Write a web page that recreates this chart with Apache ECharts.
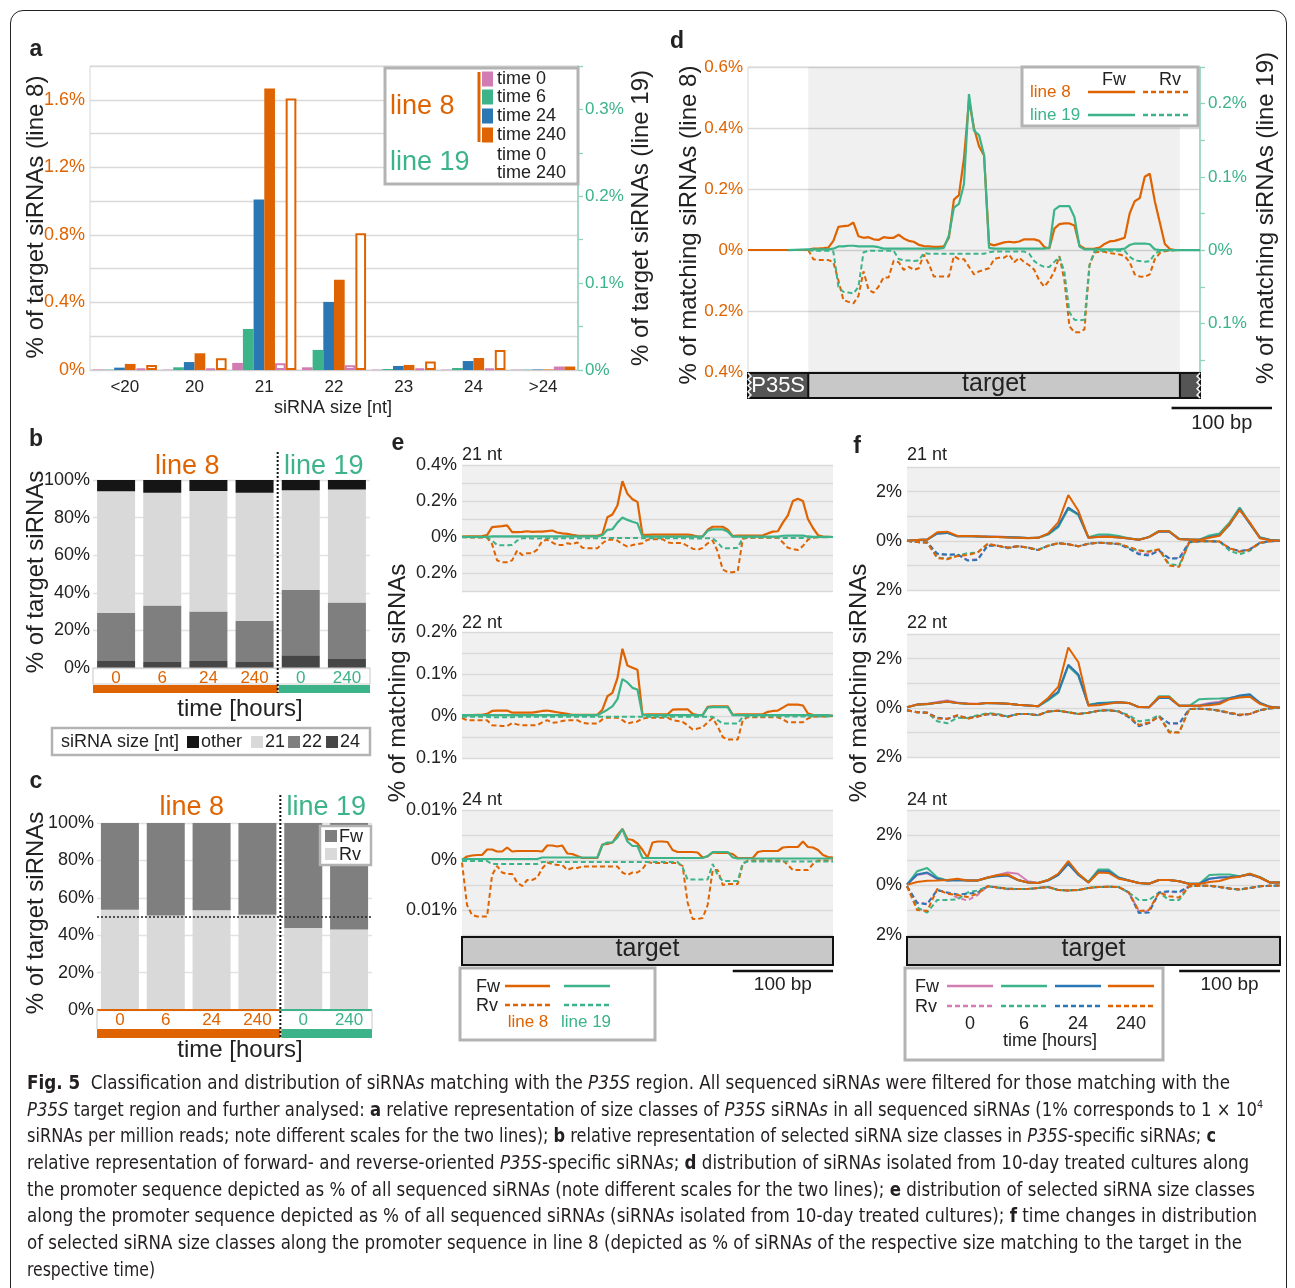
<!DOCTYPE html>
<html><head><meta charset="utf-8">
<script src="https://cdn.jsdelivr.net/npm/echarts/dist/echarts.min.js"></script>
<style>
html,body{margin:0;padding:0;background:#fff;}
#wrap{position:relative;width:1295px;height:1288px;overflow:hidden;background:#fff;}
#frame{position:absolute;left:10px;top:10px;width:1277px;height:1340px;border:1.3px solid #222;border-radius:13px;box-sizing:border-box;}
#c{position:absolute;left:0;top:0;width:1295px;height:1288px;}
#cap{position:absolute;left:27px;top:1069px;font-family:"Liberation Sans Narrow","DejaVu Sans Condensed","Liberation Sans",sans-serif;font-size:19px;line-height:26.7px;color:#231f20;}
#cap .ln{white-space:nowrap;height:26.7px;}
#cap .ln span.t{display:inline-block;transform-origin:0 50%;}
#cap sup{font-size:11px;vertical-align:8px;line-height:0;}
</style></head>
<body>
<div id="wrap">
<div id="c"></div>
<div id="frame"></div>
<div id="cap">
<div class="ln"><span class="t"><b>Fig. 5</b>&nbsp; Classification and distribution of siRNA<i>s</i> matching with the <i>P35S</i> region. All sequenced siRNA<i>s</i> were filtered for those matching with the</span></div>
<div class="ln"><span class="t"><i>P35S</i> target region and further analysed: <b>a</b> relative representation of size classes of <i>P35S</i> siRNA<i>s</i> in all sequenced siRNA<i>s</i> (1% corresponds to 1 × 10<sup>4</sup></span></div>
<div class="ln"><span class="t">siRNAs per million reads; note different scales for the two lines); <b>b</b> relative representation of selected siRNA size classes in <i>P35S</i>-specific siRNA<i>s</i>; <b>c</b></span></div>
<div class="ln"><span class="t">relative representation of forward- and reverse-oriented <i>P35S</i>-specific siRNA<i>s</i>; <b>d</b> distribution of siRNA<i>s</i> isolated from 10-day treated cultures along</span></div>
<div class="ln"><span class="t">the promoter sequence depicted as % of all sequenced siRNA<i>s</i> (note different scales for the two lines); <b>e</b> distribution of selected siRNA size classes</span></div>
<div class="ln"><span class="t">along the promoter sequence depicted as % of all sequenced siRNA<i>s</i> (siRNA<i>s</i> isolated from 10-day treated cultures); <b>f</b> time changes in distribution</span></div>
<div class="ln"><span class="t">of selected siRNA size classes along the promoter sequence in line 8 (depicted as % of siRNA<i>s</i> of the respective size matching to the target in the</span></div>
<div class="ln"><span class="t">respective time)</span></div>
</div>
</div>
<script>
// ---------------- DATA ----------------
const sizeClasses = ['<20','20','21','22','23','24','>24'];
const aLine8_t0   = [0.003,0.002,0.042,0.016,0.002,0.002,0.002];
const aLine8_t6   = [0.002,0.016,0.243,0.119,0.006,0.012,0.002];
const aLine8_t24  = [0.014,0.047,1.009,0.403,0.024,0.053,0.003];
const aLine8_t240 = [0.036,0.099,1.667,0.534,0.030,0.071,0.003];
const aLine19_t0  = [0.002,0.002,0.0077,0.0054,0.002,0.002,0.004];
const aLine19_t240= [0.0058,0.0135,0.3127,0.1575,0.0097,0.023,0.004];

const timeLabels = ['0','6','24','240','0','240'];
const bOther = [6.0,6.8,5.9,6.8,5.5,5.0];
const b21 = [64.8,60.0,64.1,68.1,53.0,60.2];
const b22 = [25.5,30.0,26.3,21.9,34.7,30.0];
const b24 = [3.7,3.2,3.7,3.2,6.8,4.8];
const cRv = [53.6,50.5,53.4,50.9,43.8,43.0];
const cFw = [46.4,49.5,46.6,49.1,56.2,57.0];

// positions along target [bp]
const pos5 = [0,5,10,15,20,25,30,35,40,45,50,55,60,65,70,75,80,85,90,95,100,105,110,115,120,125,130,135,140,145,150,155,160,165,170,175,180,185,190,195,200,205,210,215,220,225,230,235,240,245,250,255,260,265,270,275,280,285,290,295,300,305,310,315,320,325,330,335,340,345,350,355,360,365,370];
const pos10 = [0,10,20,30,40,50,60,70,80,90,100,110,120,130,140,150,160,170,180,190,200,210,220,230,240,250,260,270,280,290,300,310,320,330,340,350,360,370];

// panel d (10-day): line 8 on left axis, line 19 on right axis
const dL8Fw = [0,0.005,0.005,0.006,0.008,0.03,0.076,0.078,0.08,0.09, 0.045,0.04,0.042,0.035,0.033,0.042,0.04,0.04,0.05,0.038, 0.03,0.027,0.017,0.013,0.012,0.01,0.01,0.012,0.04,0.165, 0.18,0.3,0.49,0.4,0.34,0.31,0.02,0.015,0.02,0.025, 0.027,0.025,0.028,0.035,0.035,0.035,0.03,0.01,0.005,0.07, 0.085,0.087,0.087,0.08,0.015,0.005,0.004,0.005,0.008,0.02, 0.028,0.03,0.035,0.04,0.12,0.16,0.17,0.24,0.25,0.16, 0.09,0.02,0.003,0,0];
const dL8Rv = [0,-0.03,-0.033,-0.033,-0.033,-0.04,-0.1,-0.164,-0.17,-0.175, -0.15,-0.07,-0.13,-0.14,-0.12,-0.09,-0.09,-0.035,-0.04,-0.065, -0.055,-0.065,-0.06,-0.015,-0.045,-0.087,-0.087,-0.087,-0.087,-0.02, -0.03,-0.03,-0.055,-0.08,-0.07,-0.065,-0.06,-0.03,-0.025,-0.025, -0.015,-0.04,-0.025,-0.04,-0.05,-0.065,-0.1,-0.12,-0.1,-0.07, -0.02,-0.1,-0.25,-0.27,-0.27,-0.26,-0.05,-0.008,-0.006,-0.006, -0.01,-0.012,-0.015,-0.02,-0.04,-0.08,-0.087,-0.088,-0.08,-0.03, -0.01,-0.004,-0.002,0,0];
const dL19Fw = [0.001,0.001,0.001,0.001,0.001,0.002,0.005,0.005,0.006,0.006, 0.005,0.005,0.005,0.005,0.004,0.002,0.002,0.002,0.002,0.002, 0.002,0.002,0.002,0.002,0.002,0.002,0.002,0.003,0.02,0.058, 0.063,0.09,0.213,0.163,0.157,0.13,0.003,0.002,0.002,0.002, 0.002,0.002,0.002,0.002,0.002,0.002,0.002,0.002,0.003,0.055, 0.06,0.06,0.06,0.045,0.005,0.001,0.001,0.001,0.001,0.001, 0.001,0.001,0.001,0.002,0.007,0.009,0.009,0.009,0.008,0.001, 0,0,0,0,0];
const dL19Rv = [0,-0.001,-0.001,-0.001,-0.001,-0.002,-0.05,-0.057,-0.058,-0.059, -0.05,-0.003,-0.001,-0.001,-0.001,-0.001,-0.001,-0.001,-0.012,-0.014, -0.014,-0.015,-0.014,-0.004,-0.005,-0.005,-0.005,-0.005,-0.005,-0.005, -0.005,-0.005,-0.005,-0.005,-0.005,-0.005,-0.003,-0.002,-0.002,-0.002, -0.002,-0.002,-0.002,-0.002,-0.005,-0.015,-0.02,-0.023,-0.023,-0.016, -0.009,-0.03,-0.085,-0.095,-0.096,-0.095,-0.02,-0.001,-0.001,-0.001, -0.001,-0.001,-0.001,-0.001,-0.009,-0.014,-0.015,-0.016,-0.015,-0.005, -0.001,0,0,0,0];

// panel e
const e21L8Fw = [0.002,0.003,0.003,0.004,0.005,0.01,0.055,0.058,0.06,0.065, 0.027,0.027,0.028,0.032,0.028,0.03,0.03,0.033,0.036,0.025, 0.02,0.017,0.012,0.008,0.007,0.007,0.007,0.007,0.015,0.11, 0.125,0.175,0.31,0.24,0.21,0.195,0.013,0.012,0.013,0.013, 0.013,0.013,0.013,0.013,0.013,0.013,0.01,0.002,0.003,0.04, 0.057,0.057,0.057,0.04,0.005,0.008,0.008,0.008,0.008,0.008, 0.009,0.02,0.03,0.032,0.08,0.12,0.2,0.213,0.2,0.1, 0.05,0.01,0.002,0.001,0];
const e21L19Fw = [0.001,0.001,0.001,0.001,0.001,0.001,0.004,0.004,0.004,0.004, 0.004,0.004,0.004,0.004,0.004,0.004,0.004,0.004,0.004,0.004, 0.004,0.004,0.004,0.004,0.003,0.003,0.003,0.003,0.01,0.04, 0.043,0.08,0.108,0.095,0.085,0.076,0.002,0.002,0.002,0.002, 0.002,0.002,0.002,0.002,0.002,0.002,0.002,0.002,0.002,0.035, 0.042,0.042,0.042,0.03,0.002,0.002,0.002,0.002,0.002,0.002, 0.002,0.002,0.002,0.002,0.007,0.008,0.008,0.008,0.008,0.003, 0.001,0.001,0.001,0.001,0];
const e21L8Rv = [0,-0.002,-0.003,-0.003,-0.003,-0.004,-0.04,-0.13,-0.14,-0.14, -0.13,-0.075,-0.1,-0.09,-0.09,-0.07,-0.022,-0.016,-0.03,-0.045, -0.045,-0.035,-0.04,-0.03,-0.06,-0.063,-0.063,-0.063,-0.035,-0.015, -0.015,-0.02,-0.04,-0.053,-0.045,-0.04,-0.035,-0.015,-0.012,-0.012, -0.012,-0.03,-0.034,-0.034,-0.034,-0.05,-0.065,-0.072,-0.06,-0.035, -0.02,-0.08,-0.18,-0.196,-0.196,-0.19,-0.01,-0.005,-0.004,-0.004, -0.004,-0.004,-0.004,-0.004,-0.03,-0.06,-0.068,-0.072,-0.05,-0.015, -0.004,-0.002,0,0,0];
const e21L19Rv = [-0.002,-0.002,-0.002,-0.002,-0.002,-0.002,-0.02,-0.045,-0.046,-0.046, -0.045,-0.02,-0.007,-0.007,-0.008,-0.008,-0.007,-0.007,-0.008,-0.008, -0.007,-0.007,-0.007,-0.007,-0.007,-0.007,-0.007,-0.007,-0.006,-0.006, -0.006,-0.006,-0.006,-0.006,-0.006,-0.006,-0.007,-0.007,-0.007,-0.007, -0.007,-0.007,-0.007,-0.007,-0.007,-0.007,-0.008,-0.008,-0.008,-0.007, -0.007,-0.03,-0.062,-0.063,-0.063,-0.06,-0.005,-0.003,-0.003,-0.003, -0.003,-0.003,-0.003,-0.003,-0.006,-0.006,-0.006,-0.006,-0.006,-0.003, -0.001,-0.001,-0.001,-0.001,0];
const e22L8Fw = [0.001,0.002,0.002,0.003,0.003,0.005,0.012,0.013,0.013,0.013, 0.008,0.008,0.008,0.008,0.008,0.01,0.012,0.013,0.011,0.009, 0.007,0.005,0.003,0.003,0.003,0.003,0.003,0.003,0.015,0.047, 0.055,0.09,0.16,0.12,0.115,0.11,0.003,0.004,0.004,0.004, 0.004,0.004,0.015,0.016,0.016,0.016,0.005,0.002,0.002,0.022, 0.023,0.023,0.023,0.023,0.003,0.004,0.004,0.004,0.004,0.004, 0.004,0.01,0.012,0.013,0.02,0.027,0.027,0.027,0.025,0.006, 0.003,0.001,0.001,0.001,0.001];
const e22L19Fw = [0.002,0.002,0.002,0.002,0.002,0.002,0.002,0.002,0.002,0.002, 0.002,0.002,0.002,0.002,0.002,0.002,0.002,0.002,0.002,0.002, 0.002,0.002,0.002,0.002,0.002,0.002,0.002,0.002,0.008,0.015, 0.023,0.04,0.088,0.08,0.067,0.063,0.002,0.002,0.002,0.002, 0.002,0.002,0.002,0.002,0.002,0.002,0.002,0.002,0.002,0.02, 0.021,0.021,0.021,0.021,0.002,0.002,0.002,0.002,0.002,0.002, 0.002,0.002,0.002,0.002,0.002,0.002,0.002,0.002,0.002,0.002, 0.002,0.002,0.002,0.002,0];
const e22L8Rv = [-0.005,-0.01,-0.01,-0.01,-0.01,-0.01,-0.022,-0.023,-0.024,-0.024, -0.017,-0.02,-0.022,-0.022,-0.022,-0.022,-0.015,-0.01,-0.016,-0.015, -0.012,-0.01,-0.01,-0.01,-0.016,-0.018,-0.018,-0.018,-0.008,-0.004, -0.004,-0.004,-0.01,-0.018,-0.015,-0.013,-0.006,-0.004,-0.004,-0.004, -0.004,-0.004,-0.01,-0.012,-0.014,-0.022,-0.032,-0.03,-0.027,-0.015, -0.005,-0.025,-0.05,-0.056,-0.056,-0.056,-0.01,-0.003,-0.003,-0.003, -0.003,-0.003,-0.003,-0.003,-0.008,-0.015,-0.015,-0.015,-0.015,-0.006, -0.002,-0.001,-0.001,-0.001,0];
const e22L19Rv = [-0.002,-0.002,-0.002,-0.002,-0.002,-0.002,-0.003,-0.003,-0.003,-0.003, -0.003,-0.002,-0.002,-0.002,-0.002,-0.002,-0.002,-0.002,-0.002,-0.002, -0.002,-0.002,-0.002,-0.002,-0.002,-0.002,-0.002,-0.002,-0.002,-0.002, -0.002,-0.002,-0.002,-0.002,-0.002,-0.002,-0.002,-0.002,-0.002,-0.002, -0.002,-0.002,-0.002,-0.002,-0.002,-0.002,-0.002,-0.002,-0.002,-0.002, -0.002,-0.01,-0.018,-0.018,-0.018,-0.018,-0.002,-0.001,-0.001,-0.001, -0.001,-0.001,-0.001,-0.001,-0.001,-0.001,-0.001,-0.001,-0.001,-0.001, -0.001,-0.001,-0.001,-0.001,0];
const e24L8Fw = [0,0.0007,0.0009,0.001,0.001,0.0021,0.0021,0.0017,0.0017,0.0025, 0.0017,0.0018,0.0018,0.0018,0.0018,0.0018,0.0017,0.0029,0.0029,0.0027, 0.0029,0.0013,0.0012,0.0008,0.0004,0.0004,0.0004,0.0004,0.0031,0.0032, 0.0035,0.005,0.0062,0.0042,0.004,0.0033,0.002,0.0005,0.0035,0.0037, 0.0037,0.0036,0.002,0.0016,0.0016,0.0016,0.0016,0.0015,0.0005,0.0007, 0.0015,0.0014,0.0014,0.0014,0.0012,0.0004,0.0004,0.0004,0.0004,0.0016, 0.0018,0.0018,0.0018,0.0018,0.0025,0.0026,0.0026,0.0026,0.0037,0.0026, 0.0025,0.002,0.001,0.0006,0.0005];
const e24L19Fw = [0.0002,0.0002,0.0002,0.0002,0.0002,0.0002,0.0002,0.0002,0.0002,0.0002, 0.0002,0.0002,0.0002,0.0002,0.0002,0.0002,0.0005,0.0005,0.0005,0.0005, 0.0005,0.0005,0.0005,0.0005,0.0005,0.0005,0.0005,0.0005,0.003,0.0035, 0.0035,0.0045,0.0062,0.0037,0.0028,0.0028,0.0004,0.0004,0.0004,0.0004, 0.0004,0.0004,0.0004,0.0004,0.0004,0.0004,0.0004,0.0004,0.0004,0.0008, 0.0016,0.0016,0.0016,0.0016,0.0005,0.0003,0.0003,0.0003,0.0003,0.0003, 0.0003,0.0003,0.0003,0.0003,0.0003,0.0003,0.0003,0.0003,0.0003,0.0003, 0.0003,0.0003,0.0003,0.0003,0.0003];
const e24L8Rv = [-0.0005,-0.009,-0.011,-0.0113,-0.0113,-0.0113,-0.003,-0.0012,-0.0025,-0.0028, -0.0028,-0.0045,-0.0052,-0.004,-0.004,-0.0035,-0.0017,-0.0005,-0.0008,-0.001, -0.001,-0.002,-0.0016,-0.0016,-0.0013,-0.0013,-0.0013,-0.0013,-0.0013,-0.0013, -0.0013,-0.0013,-0.0025,-0.003,-0.0025,-0.0025,-0.0018,-0.0004,-0.0006,-0.0006, -0.0006,-0.0006,-0.0006,-0.0006,-0.0012,-0.0085,-0.0118,-0.0118,-0.0116,-0.009, -0.002,-0.002,-0.005,-0.0048,-0.0048,-0.0048,-0.0008,-0.0001,-0.0001,-0.0001, -0.0001,-0.0001,-0.0001,-0.0001,-0.0001,-0.001,-0.002,-0.002,-0.002,-0.002, -0.0008,-0.0001,-0.0001,-0.0001,-0.0001];
const e24L19Rv = [-0.0002,-0.0002,-0.0002,-0.0002,-0.0002,-0.0002,-0.0008,-0.0008,-0.0008,-0.0008, -0.0008,-0.0008,-0.0008,-0.0008,-0.0008,-0.0008,-0.0004,-0.0004,-0.0004,-0.0004, -0.0004,-0.0004,-0.0004,-0.0004,-0.0004,-0.0004,-0.0004,-0.0004,-0.0004,-0.0004, -0.0004,-0.0004,-0.0004,-0.0004,-0.0004,-0.0004,-0.0004,-0.0004,-0.0004,-0.0004, -0.0004,-0.0004,-0.0004,-0.0004,-0.0015,-0.0039,-0.0039,-0.0039,-0.0039,-0.0039, -0.0008,-0.003,-0.0042,-0.0042,-0.0042,-0.0042,-0.0006,-0.0003,-0.0003,-0.0003, -0.0003,-0.0003,-0.0003,-0.0003,-0.0003,-0.0003,-0.0003,-0.0003,-0.0003,-0.0003, -0.0003,-0.0003,-0.0003,-0.0003,-0.0003];

// panel f (line 8, time series 0 / 6 / 24 / 240 h)
const f21Fw0   = [0,0.03,0.05,0.3,0.33,0.19,0.2,0.18,0.17,0.17, 0.15,0.13,0.11,0.12,0.27,0.58,1.32,1.06,0.13,0.18, 0.2,0.15,0.09,0.04,0.15,0.38,0.38,0.07,0.05,0.04, 0.18,0.25,0.7,1.35,0.72,0.14,0.03,0];
const f21Fw6   = [0,0.03,0.05,0.3,0.32,0.18,0.19,0.17,0.16,0.15, 0.14,0.13,0.11,0.12,0.25,0.55,1.3,1.05,0.15,0.26, 0.26,0.2,0.1,0.04,0.16,0.4,0.4,0.08,0.05,0.05, 0.22,0.3,0.75,1.35,0.72,0.15,0.04,0];
const f21Fw24  = [0,0.03,0.05,0.3,0.32,0.18,0.19,0.17,0.16,0.15, 0.14,0.13,0.11,0.12,0.28,0.6,1.35,1.08,0.12,0.16, 0.16,0.13,0.09,0.04,0.15,0.37,0.37,0.07,0.05,0.04, 0.15,0.22,0.65,1.28,0.7,0.12,0.03,0];
const f21Fw240 = [0,0.03,0.05,0.35,0.37,0.2,0.2,0.18,0.16,0.15, 0.13,0.12,0.1,0.12,0.3,0.75,1.86,1.22,0.12,0.15, 0.16,0.13,0.09,0.04,0.15,0.39,0.39,0.06,0.05,0.03, 0.12,0.2,0.7,1.25,0.75,0.1,0.02,0];
const f21Rv0   = [0,-0.05,-0.07,-0.55,-0.58,-0.55,-0.78,-0.75,-0.18,-0.2, -0.28,-0.22,-0.27,-0.37,-0.2,-0.1,-0.14,-0.22,-0.12,-0.08, -0.1,-0.13,-0.3,-0.5,-0.55,-0.4,-0.7,-0.7,-0.06,-0.02, -0.02,-0.03,-0.32,-0.42,-0.35,-0.08,-0.02,0];
const f21Rv6   = [0,-0.05,-0.07,-0.68,-0.72,-0.6,-0.5,-0.48,-0.14,-0.2, -0.3,-0.22,-0.28,-0.36,-0.2,-0.1,-0.14,-0.22,-0.12,-0.08, -0.1,-0.12,-0.28,-0.4,-0.42,-0.35,-0.95,-1.0,-0.06,-0.02, -0.02,-0.03,-0.4,-0.55,-0.4,-0.1,-0.02,0];
const f21Rv24  = [0,-0.05,-0.07,-0.52,-0.56,-0.55,-0.8,-0.78,-0.2,-0.2, -0.28,-0.22,-0.28,-0.38,-0.2,-0.1,-0.14,-0.22,-0.12,-0.08, -0.1,-0.14,-0.32,-0.55,-0.6,-0.4,-0.72,-0.72,-0.06,-0.02, -0.02,-0.03,-0.3,-0.42,-0.35,-0.08,-0.02,0];
const f21Rv240 = [0,-0.05,-0.07,-0.7,-0.75,-0.62,-0.58,-0.48,-0.12,-0.2, -0.28,-0.22,-0.28,-0.38,-0.2,-0.1,-0.14,-0.22,-0.12,-0.08, -0.1,-0.12,-0.25,-0.38,-0.45,-0.35,-1.0,-1.06,-0.05,-0.02, -0.02,-0.03,-0.3,-0.45,-0.35,-0.08,-0.02,0];
const f22Fw0   = [0.02,0.14,0.16,0.24,0.3,0.22,0.17,0.16,0.2,0.18, 0.16,0.12,0.09,0.06,0.33,0.62,1.72,1.32,0.1,0.18, 0.2,0.22,0.18,0.03,0.02,0.42,0.42,0.08,0.08,0.1, 0.2,0.25,0.4,0.48,0.5,0.2,0.04,0];
const f22Fw6   = [0.02,0.12,0.14,0.2,0.25,0.19,0.16,0.15,0.19,0.18, 0.16,0.12,0.09,0.06,0.3,0.6,1.7,1.3,0.12,0.2, 0.22,0.24,0.2,0.03,0.02,0.47,0.47,0.08,0.08,0.35, 0.37,0.38,0.4,0.45,0.5,0.2,0.04,0];
const f22Fw24  = [0.02,0.13,0.15,0.2,0.26,0.19,0.16,0.15,0.2,0.18, 0.16,0.12,0.09,0.06,0.35,0.65,1.75,1.35,0.1,0.18, 0.2,0.23,0.2,0.03,0.02,0.4,0.4,0.08,0.08,0.08, 0.15,0.2,0.38,0.5,0.55,0.2,0.04,0];
const f22Fw240 = [0.02,0.13,0.15,0.2,0.26,0.19,0.16,0.15,0.2,0.18, 0.16,0.12,0.09,0.06,0.4,0.85,2.45,1.85,0.08,0.1, 0.16,0.23,0.2,0.03,0.02,0.44,0.44,0.08,0.08,0.08, 0.1,0.15,0.35,0.42,0.45,0.16,0.03,0];
const f22Rv0   = [-0.1,-0.18,-0.2,-0.42,-0.45,-0.32,-0.42,-0.35,-0.26,-0.28, -0.36,-0.25,-0.25,-0.3,-0.15,-0.12,-0.18,-0.25,-0.2,-0.12, -0.1,-0.15,-0.38,-0.72,-0.62,-0.35,-0.65,-0.65,-0.05,-0.04, -0.06,-0.12,-0.22,-0.3,-0.25,-0.1,-0.02,0];
const f22Rv6   = [-0.1,-0.18,-0.2,-0.55,-0.63,-0.4,-0.42,-0.3,-0.22,-0.25, -0.35,-0.25,-0.25,-0.3,-0.15,-0.12,-0.18,-0.25,-0.2,-0.12, -0.1,-0.15,-0.3,-0.55,-0.5,-0.3,-0.95,-1.0,-0.05,-0.04, -0.06,-0.12,-0.2,-0.28,-0.25,-0.1,-0.02,0];
const f22Rv24  = [-0.1,-0.18,-0.2,-0.4,-0.45,-0.32,-0.42,-0.35,-0.26,-0.28, -0.35,-0.25,-0.25,-0.3,-0.15,-0.12,-0.18,-0.25,-0.2,-0.12, -0.1,-0.15,-0.38,-0.75,-0.62,-0.35,-0.63,-0.63,-0.05,-0.04, -0.06,-0.12,-0.22,-0.3,-0.25,-0.1,-0.02,0];
const f22Rv240 = [-0.1,-0.18,-0.2,-0.43,-0.45,-0.3,-0.45,-0.35,-0.25,-0.28, -0.38,-0.25,-0.25,-0.3,-0.15,-0.12,-0.18,-0.25,-0.2,-0.12, -0.1,-0.15,-0.35,-0.7,-0.6,-0.35,-1.0,-1.0,-0.05,-0.04, -0.06,-0.12,-0.2,-0.28,-0.25,-0.1,-0.02,0];
const f24Fw0   = [0.02,0.4,0.47,0.25,0.18,0.2,0.18,0.18,0.3,0.4, 0.5,0.45,0.15,0.08,0.2,0.42,0.85,0.42,0.1,0.55, 0.58,0.3,0.18,0.08,0.05,0.2,0.2,0.15,0.05,0.05, 0.25,0.3,0.32,0.35,0.42,0.3,0.1,0.1];
const f24Fw6   = [0.02,0.55,0.68,0.3,0.18,0.2,0.18,0.18,0.28,0.38, 0.4,0.2,0.1,0.08,0.2,0.42,0.9,0.45,0.12,0.62, 0.62,0.3,0.18,0.08,0.05,0.2,0.2,0.15,0.05,0.05, 0.4,0.42,0.42,0.35,0.45,0.32,0.1,0.1];
const f24Fw24  = [0.02,0.42,0.5,0.25,0.18,0.2,0.18,0.18,0.3,0.35, 0.38,0.2,0.1,0.08,0.18,0.4,0.85,0.4,0.1,0.55, 0.55,0.28,0.18,0.08,0.05,0.2,0.2,0.15,0.05,0.05, 0.25,0.3,0.32,0.35,0.42,0.3,0.1,0.1];
const f24Fw240 = [0.01,0.12,0.17,0.18,0.2,0.25,0.18,0.18,0.3,0.4, 0.42,0.2,0.1,0.08,0.2,0.45,0.96,0.45,0.1,0.5, 0.48,0.25,0.18,0.08,0.05,0.2,0.2,0.15,0.04,0.04, 0.12,0.16,0.28,0.33,0.45,0.3,0.1,0.1];
const f24Rv0   = [-0.05,-0.7,-0.75,-0.2,-0.32,-0.5,-0.62,-0.4,-0.05,-0.12, -0.17,-0.16,-0.16,-0.12,-0.08,-0.2,-0.22,-0.2,-0.12,-0.08, -0.07,-0.08,-0.3,-1.05,-1.05,-0.3,-0.28,-0.3,-0.05,-0.03, -0.03,-0.08,-0.14,-0.18,-0.12,-0.05,-0.03,-0.02];
const f24Rv6   = [-0.05,-0.9,-1.1,-0.6,-0.6,-0.58,-0.3,-0.22,-0.05,-0.1, -0.15,-0.16,-0.16,-0.12,-0.08,-0.2,-0.22,-0.2,-0.12,-0.08, -0.07,-0.08,-0.3,-0.6,-0.6,-0.3,-0.6,-0.6,-0.05,-0.03, -0.03,-0.08,-0.14,-0.18,-0.12,-0.05,-0.03,-0.02];
const f24Rv24  = [-0.05,-0.72,-0.77,-0.2,-0.3,-0.38,-0.35,-0.3,-0.05,-0.1, -0.15,-0.16,-0.16,-0.12,-0.08,-0.2,-0.22,-0.2,-0.12,-0.08, -0.07,-0.08,-0.3,-1.12,-1.1,-0.3,-0.25,-0.27,-0.05,-0.03, -0.03,-0.08,-0.14,-0.18,-0.12,-0.05,-0.03,-0.02];
const f24Rv240 = [-0.05,-1.0,-1.04,-0.16,-0.35,-0.4,-0.48,-0.35,-0.05,-0.1, -0.15,-0.16,-0.16,-0.12,-0.08,-0.2,-0.22,-0.2,-0.12,-0.08, -0.07,-0.08,-0.3,-1.04,-1.0,-0.3,-0.45,-0.5,-0.05,-0.03, -0.03,-0.08,-0.14,-0.18,-0.12,-0.05,-0.03,-0.02];

// ---------------- STYLE ----------------
const OR='#DF6300', GR='#3CB389', BL='#2B77B4', PK='#D27CB4';
const GRL='#8fd3b9';
const FONT='"Liberation Sans", Arial, sans-serif';
const TXT='#222';

function pctFmt(step){
  return function(v){
    const k=v/step;
    if (Math.abs(k-Math.round(k))>1e-6) return '';
    return parseFloat(Math.abs(v).toFixed(6))+'%';
  };
}
function yAx(gi,min,max,interval,step,color,fs){
  return {type:'value',gridIndex:gi,min:min,max:max,interval:interval,
    axisLine:{show:false,onZero:false},axisTick:{show:false},
    axisLabel:{color:color,fontSize:fs||18,fontFamily:FONT,margin:5,formatter:pctFmt(step),showMinLabel:true,showMaxLabel:true},
    splitLine:{show:true,lineStyle:{color:'#d9d9d9',width:1.3}}};
}
function zip(p,v){ return p.map(function(x,i){return [x,v[i]];}); }
function ln(xi,yi,data,color,dashed,w,z){
  return {type:'line',xAxisIndex:xi,yAxisIndex:yi,data:data,symbol:'none',showSymbol:false,silent:true,
    animation:false,z:z||3,lineStyle:{color:color,width:w||2,type:dashed?[5,3]:'solid'},itemStyle:{color:color}};
}

const chart = echarts.init(document.getElementById('c'), null, {renderer:'canvas', width:1295, height:1288});

const eBg = {show:true,backgroundColor:'#f0f0f0',borderWidth:0};
const grids = [
  {left:90,top:66,width:488,height:304,show:true,borderColor:'#d6d6d6',borderWidth:1,backgroundColor:'#fff'},
  {left:748,top:67,width:452,height:305,show:true,borderColor:'#d6d6d6',borderWidth:1,backgroundColor:'#fff'},
  {left:748,top:67,width:452,height:293},
  {left:93,top:480,width:277,height:188},
  {left:97,top:823,width:275,height:187},
  Object.assign({left:462,top:465,width:371,height:126},eBg),
  Object.assign({left:462,top:632,width:371,height:126},eBg),
  Object.assign({left:462,top:810,width:371,height:125},eBg),
  Object.assign({left:907,top:467,width:373,height:123},eBg),
  Object.assign({left:907,top:634,width:373,height:123},eBg),
  Object.assign({left:907,top:810,width:373,height:125},eBg)
];

const timeLabelFmt = {
  formatter:function(v,i){ return (i<4?'{o|':'{g|')+v+'}'; },
  rich:{o:{color:OR,fontSize:17,fontFamily:FONT},g:{color:GR,fontSize:17,fontFamily:FONT}},
  margin:2, interval:0
};

const xAxes = [
  {type:'category',gridIndex:0,data:sizeClasses,axisLine:{show:true,onZero:false,lineStyle:{color:'#cfcfcf'}},axisTick:{show:false},
    axisLabel:{color:TXT,fontSize:17,fontFamily:FONT,margin:9}},
  {type:'value',gridIndex:1,min:-60,max:390,show:false},
  {type:'value',gridIndex:2,min:-60,max:390,show:false},
  {type:'category',gridIndex:3,data:timeLabels,axisLine:{show:false,onZero:false},axisTick:{show:false},axisLabel:timeLabelFmt},
  {type:'category',gridIndex:4,data:timeLabels,axisLine:{show:false,onZero:false},axisTick:{show:false},axisLabel:timeLabelFmt},
  {type:'value',gridIndex:5,min:0,max:370,show:false},
  {type:'value',gridIndex:6,min:0,max:370,show:false},
  {type:'value',gridIndex:7,min:0,max:370,show:false},
  {type:'value',gridIndex:8,min:0,max:370,show:false},
  {type:'value',gridIndex:9,min:0,max:370,show:false},
  {type:'value',gridIndex:10,min:0,max:370,show:false}
];

const yAxes = [
  yAx(0,0,1.8,0.2,0.4,OR),
  {type:'value',gridIndex:0,position:'right',min:0,max:0.35,interval:0.05,
    axisLine:{show:true,onZero:false,lineStyle:{color:GRL,width:1.5}},axisTick:{show:true,length:5,lineStyle:{color:GRL,width:1.3}},
    axisLabel:{color:GR,fontSize:17,fontFamily:FONT,margin:7,formatter:pctFmt(0.1)},splitLine:{show:false}},
  yAx(1,-0.4,0.6,0.2,0.2,OR,17),
  {type:'value',gridIndex:1,position:'right',min:-0.4,max:0.6,
    axisLine:{show:true,onZero:false,lineStyle:{color:GRL,width:1.5}},axisTick:{show:false},axisLabel:{show:false},splitLine:{show:false}},
  {type:'value',gridIndex:2,position:'right',min:-0.15,max:0.25,interval:0.05,
    axisLine:{show:false,onZero:false},axisTick:{show:true,length:5,lineStyle:{color:GRL,width:1.3}},
    axisLabel:{color:GR,fontSize:17,fontFamily:FONT,margin:8,formatter:pctFmt(0.1)},splitLine:{show:false}},
  {type:'value',gridIndex:3,min:0,max:100,interval:20,axisLine:{show:false,onZero:false},axisTick:{show:false},
    axisLabel:{formatter:'{value}%',color:TXT,fontSize:18,fontFamily:FONT,margin:3},splitLine:{lineStyle:{color:'#e2e2e2',width:1.3}}},
  {type:'value',gridIndex:4,min:0,max:100,interval:20,axisLine:{show:false,onZero:false},axisTick:{show:false},
    axisLabel:{formatter:'{value}%',color:TXT,fontSize:18,fontFamily:FONT,margin:3},splitLine:{lineStyle:{color:'#e2e2e2',width:1.3}}},
  yAx(5,-0.3,0.4,0.1,0.2,TXT),
  yAx(6,-0.1,0.2,0.05,0.1,TXT),
  yAx(7,-0.015,0.01,0.005,0.01,TXT),
  yAx(8,-2,3,1,2,TXT),
  yAx(9,-2,3,1,2,TXT),
  yAx(10,-2,3,1,2,TXT)
];

const series = [];
// panel a
function barA(yi,data,style){ return {type:'bar',xAxisIndex:0,yAxisIndex:yi,data:data,itemStyle:style,barGap:'0%',barCategoryGap:'8%',animation:false,silent:true}; }
series.push(barA(0,aLine8_t0,{color:PK}));
series.push(barA(0,aLine8_t6,{color:GR}));
series.push(barA(0,aLine8_t24,{color:BL}));
series.push(barA(0,aLine8_t240,{color:OR}));
series.push(barA(1,aLine19_t0,{color:'#fff',borderColor:PK,borderWidth:2}));
series.push(barA(1,aLine19_t240,{color:'#fff',borderColor:OR,borderWidth:2}));

// panel d
const dOrFw = [[-60,0]].concat(zip(pos5,dL8Fw)).concat([[390,0]]);
const dGrFw = [[-20,0]].concat(zip(pos5,dL19Fw)).concat([[390,0]]);
const sdo = ln(1,2,dOrFw,OR,false,2.2,3);
sdo.markArea = {silent:true,itemStyle:{color:'rgba(0,0,0,0.058)'},data:[[{xAxis:0},{xAxis:370}]]};
series.push(sdo);
series.push(ln(1,2,zip(pos5,dL8Rv),OR,true,2,3));
series.push(ln(2,4,zip(pos5,dL19Rv),GR,true,2,4));
series.push(ln(2,4,dGrFw,GR,false,2.2,4));

// panel b
function barB(xi,yi,stack,data,color){ return {type:'bar',xAxisIndex:xi,yAxisIndex:yi,stack:stack,data:data,barWidth:38,itemStyle:{color:color},animation:false,silent:true}; }
series.push(barB(3,5,'b',b24,'#464646'));
series.push(barB(3,5,'b',b22,'#7f7f7f'));
series.push(barB(3,5,'b',b21,'#d9d9d9'));
series.push(barB(3,5,'b',bOther,'#151515'));
// panel c
series.push(barB(4,6,'c',cRv,'#d9d9d9'));
const cfw = barB(4,6,'c',cFw,'#7f7f7f');
cfw.markLine = {silent:true,symbol:'none',label:{show:false},lineStyle:{color:'#222',type:[2,2],width:1.6},data:[{yAxis:50}],animation:false};
series.push(cfw);

// panel e
const eSets = [[e21L8Fw,e21L8Rv,e21L19Fw,e21L19Rv],[e22L8Fw,e22L8Rv,e22L19Fw,e22L19Rv],[e24L8Fw,e24L8Rv,e24L19Fw,e24L19Rv]];
eSets.forEach(function(s,k){
  const xi=5+k, yi=7+k;
  series.push(ln(xi,yi,zip(pos5,s[1]),OR,true,2));
  series.push(ln(xi,yi,zip(pos5,s[0]),OR,false,2.2));
  series.push(ln(xi,yi,zip(pos5,s[3]),GR,true,2));
  series.push(ln(xi,yi,zip(pos5,s[2]),GR,false,2.2));
});

// panel f
const fSets = [
  [[f21Fw0,f21Fw6,f21Fw24,f21Fw240],[f21Rv0,f21Rv6,f21Rv24,f21Rv240]],
  [[f22Fw0,f22Fw6,f22Fw24,f22Fw240],[f22Rv0,f22Rv6,f22Rv24,f22Rv240]],
  [[f24Fw0,f24Fw6,f24Fw24,f24Fw240],[f24Rv0,f24Rv6,f24Rv24,f24Rv240]]
];
const fCols = [PK,GR,BL,OR];
fSets.forEach(function(s,k){
  const xi=8+k, yi=10+k;
  for (let t=0;t<4;t++) series.push(ln(xi,yi,zip(pos10,s[1][t]),fCols[t],true,2,3+t));
  for (let t=0;t<4;t++) series.push(ln(xi,yi,zip(pos10,s[0][t]),fCols[t],false,2,7+t));
});

chart.setOption({animation:false,textStyle:{fontFamily:FONT},grid:grids,xAxis:xAxes,yAxis:yAxes,series:series});

// ---------------- ANNOTATIONS ----------------
const G = [];
function T(x,y,s,o){ o=o||{};
  const font=(o.bold?'bold ':'')+(o.size||18)+'px '+FONT;
  G.push({type:'text',x:x,y:y,rotation:o.rot||0,z:100,silent:true,
    style:{text:s,fill:o.color||TXT,font:font,textAlign:o.align||'center',textVerticalAlign:'middle',align:o.align||'center',verticalAlign:'middle'}});
}
function R(x,y,w,h,fill,stroke,lw){ G.push({type:'rect',z:99,silent:true,shape:{x:x,y:y,width:w,height:h},style:{fill:fill||'none',stroke:stroke||null,lineWidth:lw||0}}); }
function L(x1,y1,x2,y2,color,lw,dash){ G.push({type:'line',z:100,silent:true,shape:{x1:x1,y1:y1,x2:x2,y2:y2},style:{stroke:color,lineWidth:lw||2,lineDash:dash||null}}); }
function PL(pts,color,lw){ G.push({type:'polyline',z:101,silent:true,shape:{points:pts},style:{stroke:color,lineWidth:lw||1.5,fill:null}}); }
const px = function(xi,v){ return chart.convertToPixel({xAxisIndex:xi},v); };
const R90 = Math.PI/2;

// panel letters
T(36,50,'a',{bold:true,size:23}); T(36,440,'b',{bold:true,size:23}); T(36,782,'c',{bold:true,size:23});
T(677,42,'d',{bold:true,size:23}); T(398,444,'e',{bold:true,size:23}); T(857,447,'f',{bold:true,size:23});

// axis titles
T(36,217,'% of target siRNAs (line 8)',{rot:R90,size:24});
T(641,218,'% of target siRNAs (line 19)',{rot:R90,size:24});
T(689,225,'% of matching siRNAs (line 8)',{rot:R90,size:24});
T(1266,218,'% of matching siRNAs (line 19)',{rot:R90,size:24});
T(36,572,'% of target siRNAs',{rot:R90,size:24});
T(36,913,'% of target siRNAs',{rot:R90,size:24});
T(398,683,'% of matching siRNAs',{rot:R90,size:24});
T(859,683,'% of matching siRNAs',{rot:R90,size:24});
T(333,408,'siRNA size [nt]',{size:18});

// panel a legend
R(385,68,193,116,'#fff','#b3b3b3',3);
T(390,107,'line 8',{color:OR,size:27,align:'left'});
T(390,163,'line 19',{color:GR,size:27,align:'left'});
L(479,72,479,142,OR,3);
[[PK,79],[GR,97],[BL,116],[OR,135]].forEach(function(p){ R(482,p[1]-7.5,11,15,p[0]); });
[['time 0',79],['time 6',97],['time 24',116],['time 240',135],['time 0',155],['time 240',173]].forEach(function(p){ T(497,p[1],p[0],{align:'left',size:18}); });

// panel d legend
R(1022,67,176,59,'#fff','#b3b3b3',3);
T(1114,80,'Fw',{size:18}); T(1170,80,'Rv',{size:18});
T(1030,92,'line 8',{color:OR,size:17,align:'left'});
T(1030,115,'line 19',{color:GR,size:17,align:'left'});
L(1088,92,1135,92,OR,2.5); L(1143,92,1190,92,OR,2.5,[5,3]);
L(1088,115,1135,115,GR,2.5); L(1143,115,1190,115,GR,2.5,[5,3]);

// panel d gene bar
(function(){
  const x0=px(1,-60), t0=px(1,0), t1=px(1,370), x1=px(1,390);
  R(x0,373,x1-x0,25,'#555','#111',2);
  R(t0,373,t1-t0,25,'#c8c8c8','#111',2);
  T((x0+t0)/2,386,'P35S',{color:'#fff',size:22});
  T((t0+t1)/2,384,'target',{size:25});
  const zl=[], zr=[];
  for (let k=0;k<=8;k++){ zl.push([x0+(k%2?3:0),373+k*25/8]); zr.push([x1-(k%2?3:0),373+k*25/8]); }
  PL(zl,'#eee',1.5); PL(zr,'#eee',1.5);
  const len=px(1,100)-px(1,0);
  L(1272-len,408,1272,408,'#111',2.5);
  T(1272-len/2,423,'100 bp',{size:20});
})();

// panel b extras
(function(){
  const c3=px(3,3), c4=px(3,4), cw=px(3,1)-px(3,0);
  const sep=(c3+c4)/2, left=px(3,0)-cw/2, right=px(3,5)+cw/2;
  R(left,668,right-left,16,'none','#cfcfcf',1.2);
  R(left,685,sep-left,8,OR); R(sep+1,685,right-sep-1,8,GR);
  L(sep,452,sep,693,'#111',2,[2,2]);
  T((left+sep)/2+2,467,'line 8',{color:OR,size:27});
  T((sep+right)/2,467,'line 19',{color:GR,size:27});
  T(240,709,'time [hours]',{size:24});
  R(52,728,318,27,'#fff','#b3b3b3',2.5);
  T(61,742,'siRNA size [nt]',{align:'left',size:18});
  R(187,736,12,12,'#151515'); T(201,742,'other',{align:'left',size:18});
  R(251,736,12,12,'#d9d9d9'); T(265,742,'21',{align:'left',size:18});
  R(288,736,12,12,'#7f7f7f'); T(302,742,'22',{align:'left',size:18});
  R(326,736,12,12,'#464646'); T(340,742,'24',{align:'left',size:18});
})();

// panel c extras
(function(){
  const c3=px(4,3), c4=px(4,4), cw=px(4,1)-px(4,0);
  const sep=(c3+c4)/2, left=px(4,0)-cw/2, right=px(4,5)+cw/2;
  L(left,1010,sep,1010,OR,2); L(sep,1010,right,1010,GR,2);
  L(left,1010,left,1029,'#d0d0d0',1.2); L(right,1010,right,1029,'#d0d0d0',1.2);
  R(left,1029,sep-left,9,OR); R(sep+1,1029,right-sep-1,9,GR);
  L(sep,795,sep,1038,'#111',2,[2,2]);
  T((left+sep)/2+3,808,'line 8',{color:OR,size:27});
  T((sep+right)/2,808,'line 19',{color:GR,size:27});
  T(240,1050,'time [hours]',{size:24});
  R(320,826,51,39,'#fff','#b3b3b3',2.5);
  R(325,830,12,12,'#7f7f7f'); T(339,837,'Fw',{align:'left',size:18});
  R(325,848,12,12,'#d9d9d9'); T(339,855,'Rv',{align:'left',size:18});
})();

// panel e / f titles and gene bars
T(462,455,'21 nt',{align:'left',size:18}); T(462,623,'22 nt',{align:'left',size:18}); T(462,800,'24 nt',{align:'left',size:18});
T(907,455,'21 nt',{align:'left',size:18}); T(907,623,'22 nt',{align:'left',size:18}); T(907,800,'24 nt',{align:'left',size:18});
(function(){
  [[5,937],[8,937]].forEach(function(p){
    const a=px(p[0],0), b=px(p[0],370);
    R(a,p[1],b-a,28,'#c8c8c8','#111',2);
    T((a+b)/2,p[1]+12,'target',{size:25});
    const len=px(p[0],100)-px(p[0],0);
    L(b-len,971,b,971,'#111',2.5);
    T(b-len/2,985,'100 bp',{size:19});
  });
})();

// panel e legend
R(460,968,195,72,'#fff','#b3b3b3',3);
T(476,987,'Fw',{align:'left',size:18}); T(476,1006,'Rv',{align:'left',size:18});
L(505,986,550,986,OR,2.5); L(564,986,610,986,GR,2.5);
L(505,1005,550,1005,OR,2.5,[5,3]); L(564,1005,610,1005,GR,2.5,[5,3]);
T(528,1022,'line 8',{color:OR,size:17}); T(586,1022,'line 19',{color:GR,size:17});

// panel f legend
R(905,968,258,92,'#fff','#b3b3b3',3);
T(915,987,'Fw',{align:'left',size:18}); T(915,1007,'Rv',{align:'left',size:18});
[[PK,947],[GR,1001],[BL,1055],[OR,1108]].forEach(function(p){
  L(p[1],986,p[1]+46,986,p[0],2.5); L(p[1],1006,p[1]+46,1006,p[0],2.5,[5,3]);
});
T(970,1024,'0',{size:18}); T(1024,1024,'6',{size:18}); T(1078,1024,'24',{size:18}); T(1131,1024,'240',{size:18});
T(1050,1041,'time [hours]',{size:18});

chart.setOption({graphic:{elements:G}});

// caption: fit each line to its measured width in the reference
const capW = [1203,1236,1189,1222,1228,1230,1215,128];
document.querySelectorAll('#cap .ln span.t').forEach(function(el,i){
  const w = el.getBoundingClientRect().width;
  if (w>0) el.style.transform = 'scaleX('+(capW[i]/w)+')';
});
</script>
</body></html>
